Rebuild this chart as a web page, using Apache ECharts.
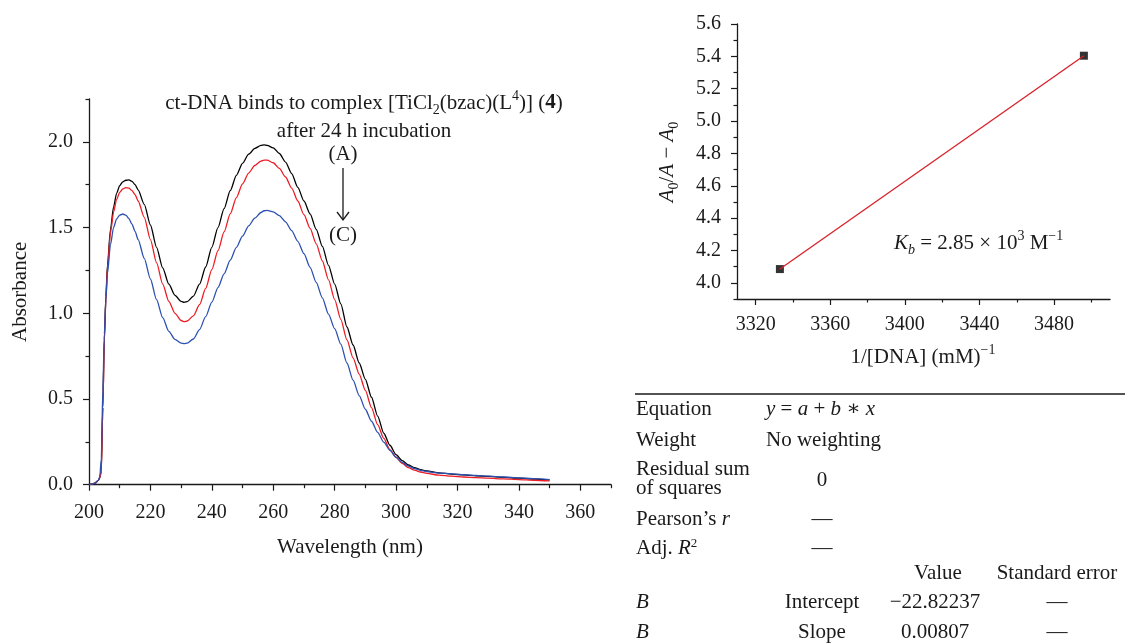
<!DOCTYPE html>
<html>
<head>
<meta charset="utf-8">
<script src="https://cdn.jsdelivr.net/npm/echarts@6/dist/echarts.min.js"></script>
<style>
  html, body { margin: 0; padding: 0; background: #fff; }
  #main { width: 1127px; height: 644px; }
</style>
</head>
<body>
<div id="main"></div>
<script>
// ---- UV-vis spectra, curves (A) -> (C)
const wavelength = [200, 201, 202, 203, 203.5, 204, 204.5, 205, 205.5, 206, 207, 208, 209, 210, 211, 212, 213, 214, 215, 216,
  218, 220, 222, 224, 226, 228, 230, 231, 232, 234, 236, 238, 240, 242, 244, 246, 248, 250, 252, 254, 256, 257, 258,
  260, 262, 264, 266, 268, 270, 272, 274, 276, 278, 280, 282, 284, 286, 288, 290, 292, 294, 296, 298, 300, 302, 304,
  306, 308, 310, 314, 318, 322, 326, 330, 335, 340, 345, 350]
const absA = [0, 0.004, 0.01, 0.025, 0.04, 0.08, 0.45, 0.85, 1.10, 1.28, 1.49, 1.62, 1.70, 1.745, 1.767, 1.776, 1.778, 1.770, 1.750, 1.720,
  1.635, 1.515, 1.385, 1.265, 1.170, 1.105, 1.070, 1.064, 1.068, 1.100, 1.170, 1.270, 1.385, 1.500, 1.610, 1.715, 1.805, 1.875, 1.928, 1.962, 1.979, 1.982, 1.980,
  1.965, 1.932, 1.882, 1.815, 1.735, 1.655, 1.580, 1.490, 1.390, 1.280, 1.170, 1.055, 0.920, 0.815, 0.710, 0.615, 0.510, 0.400, 0.300, 0.230, 0.175, 0.140, 0.115,
  0.100, 0.088, 0.080, 0.069, 0.062, 0.057, 0.052, 0.048, 0.043, 0.038, 0.033, 0.028]
const absB = [0, 0.004, 0.01, 0.025, 0.04, 0.08, 0.45, 0.84, 1.08, 1.26, 1.47, 1.59, 1.665, 1.705, 1.725, 1.733, 1.730, 1.716, 1.692, 1.655,
  1.560, 1.430, 1.295, 1.170, 1.070, 1.000, 0.958, 0.951, 0.955, 0.985, 1.050, 1.145, 1.255, 1.365, 1.475, 1.580, 1.675, 1.755, 1.818, 1.862, 1.888, 1.894, 1.893,
  1.878, 1.845, 1.795, 1.730, 1.655, 1.575, 1.495, 1.405, 1.305, 1.195, 1.080, 0.965, 0.845, 0.740, 0.645, 0.550, 0.450, 0.350, 0.270, 0.205, 0.160, 0.125, 0.100,
  0.085, 0.074, 0.066, 0.056, 0.050, 0.045, 0.041, 0.038, 0.034, 0.030, 0.026, 0.022]
const absC = [0, 0.004, 0.01, 0.025, 0.045, 0.15, 0.55, 0.88, 1.08, 1.23, 1.40, 1.50, 1.550, 1.573, 1.579, 1.572, 1.552, 1.520, 1.478, 1.430,
  1.320, 1.200, 1.080, 0.975, 0.895, 0.848, 0.826, 0.823, 0.826, 0.850, 0.905, 0.980, 1.065, 1.150, 1.230, 1.310, 1.385, 1.450, 1.510, 1.555, 1.588, 1.598, 1.600,
  1.592, 1.570, 1.533, 1.482, 1.420, 1.348, 1.268, 1.180, 1.090, 0.995, 0.910, 0.820, 0.710, 0.610, 0.520, 0.440, 0.370, 0.305, 0.248, 0.200, 0.160, 0.130, 0.108,
  0.094, 0.084, 0.077, 0.068, 0.063, 0.058, 0.054, 0.050, 0.045, 0.040, 0.035, 0.030]
const absTicks = [0, 0.5, 1, 1.5, 2]
const absMinorTicks = [0.25, 0.75, 1.25, 1.75, 2.25]
const wlTicks = [200, 220, 240, 260, 280, 300, 320, 340, 360]
const wlMinorTicks = [210, 230, 250, 270, 290, 310, 330, 350, 370]

// ---- binding plot A0/(A - A0) vs 1/[DNA]
const invDNA = [3333, 3496]
const ratio = [4.085, 5.404]
const ratioTicks = [4.0, 4.2, 4.4, 4.6, 4.8, 5.0, 5.2, 5.4, 5.6]
const ratioMinorTicks = [3.9, 4.1, 4.3, 4.5, 4.7, 4.9, 5.1, 5.3, 5.5]
const invTicks = [3320, 3360, 3400, 3440, 3480]
const invMinorTicks = [3340, 3380, 3420, 3460, 3500]

// ---- linear fit report
const fitLabels = ['Equation', 'Weight', 'Pearson’s {i|r}', 'Adj. {i|R}{sup|2}']
const fitValues = ['{i|y} = {i|a} + {i|b} ∗ {i|x}', 'No weighting', '—', '—']
const paramNames = ['Intercept', 'Slope']
const paramValues = ['−22.82237', '0.00807']
const paramErrors = ['—', '—']

const FONT = '"Liberation Serif", "DejaVu Serif", serif'
const INK = '#1a1a1a'
const chart = echarts.init(document.getElementById('main'))

const rich = {
  n: { fontSize: 21, fontFamily: FONT, lineHeight: 28, fill: INK },
  i: { fontSize: 21, fontFamily: FONT, fontStyle: 'italic', lineHeight: 28, fill: INK },
  b: { fontSize: 21, fontFamily: FONT, fontWeight: 'bold', lineHeight: 28, fill: INK },
  sub: { fontSize: 14, fontFamily: FONT, lineHeight: 14, verticalAlign: 'bottom', fill: INK },
  isub: { fontSize: 14, fontFamily: FONT, fontStyle: 'italic', lineHeight: 14, verticalAlign: 'bottom', fill: INK },
  sup: { fontSize: 14, fontFamily: FONT, lineHeight: 14, verticalAlign: 'top', fill: INK }
}
const tableRich = {
  i: { fontSize: 21, fontFamily: FONT, fontStyle: 'italic', fill: INK },
  sup: { fontSize: 13, fontFamily: FONT, verticalAlign: 'top', lineHeight: 10, fill: INK }
}

function txt (x, y, text, align, extra) {
  return Object.assign({
    type: 'text',
    x,
    y,
    silent: true,
    style: {
      text,
      fill: INK,
      font: '21px ' + FONT,
      align: align || 'left',
      verticalAlign: 'middle',
      rich
    }
  }, extra || {})
}
function cell (x, y, text, align) {
  return {
    type: 'text',
    x,
    y,
    silent: true,
    style: {
      text,
      fill: INK,
      font: '21px ' + FONT,
      align: align || 'left',
      verticalAlign: 'middle',
      rich: tableRich
    }
  }
}

const axisFont = { color: INK, fontSize: 20, fontFamily: FONT }
const nameFont = { color: INK, fontSize: 21, fontFamily: FONT }
const axisLine = { show: true, onZero: false, lineStyle: { color: INK, width: 1.3 } }
const tickStyle = { color: INK, width: 1.2 }

function mainAxis (grid, min, max, ticks, fmt, margin, extra) {
  return Object.assign({
    type: 'value',
    gridIndex: grid,
    min,
    max,
    axisLine,
    splitLine: { show: false },
    axisTick: { show: true, customValues: ticks, length: 6, lineStyle: tickStyle },
    axisLabel: Object.assign({ customValues: ticks, margin, formatter: fmt }, axisFont)
  }, extra || {})
}
function minorAxis (grid, min, max, ticks, position) {
  return {
    type: 'value',
    gridIndex: grid,
    position,
    min,
    max,
    axisLine: { show: false, onZero: false },
    splitLine: { show: false },
    axisLabel: { show: false },
    axisTick: { show: true, customValues: ticks, length: 3.5, lineStyle: tickStyle }
  }
}

const pair = (xs, ys) => xs.map((x, i) => [x, ys[i]])
const spectrum = (data, color) => ({
  type: 'line',
  xAxisIndex: 0,
  yAxisIndex: 0,
  data: pair(wavelength, data),
  showSymbol: false,
  smooth: 0.25,
  smoothMonotone: 'x',
  lineStyle: { color, width: 1.3 }
})

const graphic = [
  // title of spectra
  txt(364, 103, '{n|ct-DNA binds to complex [TiCl}{sub|2}{n|(bzac)(L}{sup|4}{n|)] (}{b|4}{n|)}', 'center'),
  txt(364, 131, 'after 24 h incubation', 'center'),
  txt(343, 154, '(A)', 'center'),
  txt(343, 235, '(C)', 'center'),
  { type: 'line', silent: true, shape: { x1: 343, y1: 168, x2: 343, y2: 220 }, style: { stroke: INK, lineWidth: 1.3 } },
  { type: 'polyline', silent: true, shape: { points: [[337, 212], [343, 220], [349, 212]] }, style: { stroke: INK, lineWidth: 1.3, fill: null } },
  // binding plot labels
  txt(667, 162, '{i|A}{sub|0}{n|/}{i|A}{n| − }{i|A}{sub|0}', 'center', { rotation: Math.PI / 2 }),
  txt(923, 357, '{n|1/[DNA] (mM)}{sup|−1}', 'center'),
  txt(894, 243, '{i|K}{isub|b}{n| = 2.85 × 10}{sup|3}{n| M}{sup|−1}', 'left'),
  // table rule
  { type: 'line', silent: true, shape: { x1: 635, y1: 394, x2: 1125, y2: 394 }, style: { stroke: INK, lineWidth: 1.4 } }
]
const rowY = [409, 440, 519, 548]
fitLabels.forEach((t, i) => graphic.push(cell(636, rowY[i], t)))
fitValues.forEach((t, i) => graphic.push(cell(i < 2 ? 766 : 822, rowY[i], t, i < 2 ? 'left' : 'center')))
graphic.push(cell(636, 469, 'Residual sum'))
graphic.push(cell(636, 488, 'of squares'))
graphic.push(cell(822, 480, '0', 'center'))
graphic.push(cell(938, 573, 'Value', 'center'))
graphic.push(cell(1057, 573, 'Standard error', 'center'))
const paramY = [602, 632]
paramNames.forEach((t, i) => {
  graphic.push(cell(636, paramY[i], '{i|B}'))
  graphic.push(cell(822, paramY[i], t, 'center'))
  graphic.push(cell(935, paramY[i], paramValues[i], 'center'))
  graphic.push(cell(1057, paramY[i], paramErrors[i], 'center'))
})

chart.setOption({
  animation: false,
  backgroundColor: '#fff',
  grid: [
    { left: 89, right: 516, top: 99, bottom: 159.3 },
    { left: 737, right: 17, top: 24, bottom: 345 }
  ],
  xAxis: [
    mainAxis(0, 200, 370, wlTicks, v => String(v), 18, {
      position: 'bottom',
      name: 'Wavelength (nm)',
      nameLocation: 'middle',
      nameGap: 52,
      nameTextStyle: nameFont
    }),
    minorAxis(0, 200, 370, wlMinorTicks, 'bottom'),
    mainAxis(1, 3310, 3510, invTicks, v => String(v), 16, { position: 'bottom' }),
    minorAxis(1, 3310, 3510, invMinorTicks, 'bottom')
  ],
  yAxis: [
    mainAxis(0, 0, 2.25, absTicks, v => v.toFixed(1), 16, {
      position: 'left',
      name: 'Absorbance',
      nameLocation: 'middle',
      nameGap: 58,
      nameTextStyle: nameFont
    }),
    minorAxis(0, 0, 2.25, absMinorTicks, 'left'),
    mainAxis(1, 3.9, 5.6, ratioTicks, v => v.toFixed(1), 16, { position: 'left' }),
    minorAxis(1, 3.9, 5.6, ratioMinorTicks, 'left')
  ],
  series: [
    spectrum(absA, '#000000'),
    spectrum(absB, '#ee1c24'),
    spectrum(absC, '#2b50b0'),
    {
      type: 'scatter',
      xAxisIndex: 2,
      yAxisIndex: 2,
      data: pair(invDNA, ratio),
      symbol: 'rect',
      symbolSize: 8,
      itemStyle: { color: '#000' },
      z: 2
    },
    {
      type: 'line',
      xAxisIndex: 2,
      yAxisIndex: 2,
      data: pair(invDNA, ratio),
      showSymbol: false,
      lineStyle: { color: '#d8202a', width: 1.3 },
      z: 3
    }
  ],
  graphic
})
</script>
</body>
</html>
